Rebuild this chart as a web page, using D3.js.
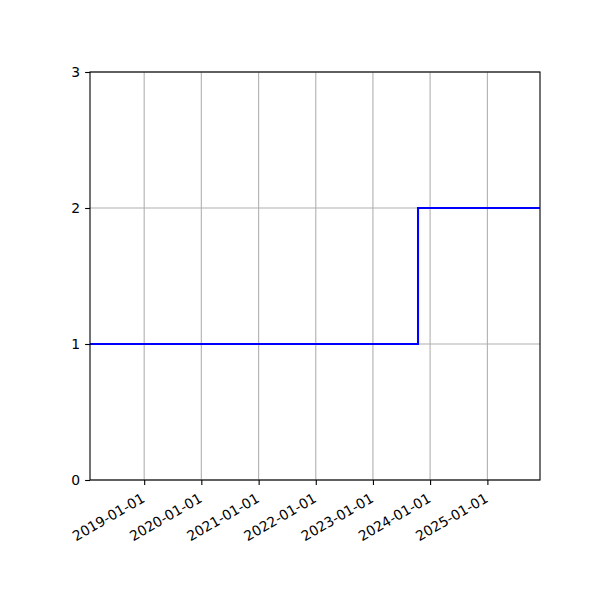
<!DOCTYPE html>
<html>
  <head>
    <meta charset="UTF-8" />
    <script src="https://d3js.org/d3.v7.min.js"></script>
    <style>
      body { margin: 0; background: #fff; }
      text { font-family: "DejaVu Sans", sans-serif; font-size: 13.9px; fill: #000; }
    </style>
  </head>
  <body>
    <svg id="chart" width="600" height="600"></svg>
    <script>
      // step data: dates and values
      var dates = ["2018-01-20", "2023-10-16", "2025-12-03"];
      var values = [1, 2, 2];
      var xTickDates = ["2019-01-01", "2020-01-01", "2021-01-01", "2022-01-01", "2023-01-01", "2024-01-01", "2025-01-01"];
      var yTicks = [0, 1, 2, 3];

      var parse = d3.utcParse("%Y-%m-%d");
      var data = dates.map(function(d, i) { return { date: parse(d), value: values[i] }; });

      var svg = d3.select("#chart");
      var plotLeft = 90, plotRight = 540, plotTop = 72, plotBottom = 480;

      var x = d3.scaleUtc()
        .domain(d3.extent(data, function(d) { return d.date; }))
        .range([plotLeft, plotRight]);
      var y = d3.scaleLinear().domain([0, 3]).range([plotBottom, plotTop]);

      svg.append("rect").attr("width", 600).attr("height", 600).attr("fill", "#fff");

      // grid
      var grid = svg.append("g").attr("stroke", "#b0b0b0").attr("stroke-width", 1.1);
      grid.selectAll(".vx").data(xTickDates).enter().append("line")
        .attr("x1", function(d) { return x(parse(d)); })
        .attr("x2", function(d) { return x(parse(d)); })
        .attr("y1", plotTop).attr("y2", plotBottom);
      grid.selectAll(".hy").data(yTicks).enter().append("line")
        .attr("x1", plotLeft).attr("x2", plotRight)
        .attr("y1", function(d) { return y(d); })
        .attr("y2", function(d) { return y(d); });

      // step line
      var line = d3.line()
        .x(function(d) { return x(d.date); })
        .y(function(d) { return y(d.value); })
        .curve(d3.curveStepAfter);
      svg.append("path").datum(data)
        .attr("fill", "none")
        .attr("stroke", "#0000ff")
        .attr("stroke-width", 2.08)
        .attr("d", line);

      // frame
      svg.append("rect")
        .attr("x", plotLeft).attr("y", plotTop)
        .attr("width", plotRight - plotLeft).attr("height", plotBottom - plotTop)
        .attr("fill", "none").attr("stroke", "#000").attr("stroke-width", 1.1);

      // y axis
      var yAxis = svg.append("g").attr("transform", "translate(" + plotLeft + ",0)")
        .call(d3.axisLeft(y).tickValues(yTicks).tickFormat(d3.format("d")).tickSize(4.9).tickPadding(4.9));
      yAxis.select(".domain").remove();
      yAxis.selectAll("line").attr("stroke", "#000").attr("stroke-width", 1.1);
      yAxis.selectAll("text").attr("font-size", null).attr("font-family", null);

      // x axis
      var xAxis = svg.append("g").attr("transform", "translate(0," + plotBottom + ")")
        .call(d3.axisBottom(x).tickValues(xTickDates.map(parse)).tickFormat(d3.utcFormat("%Y-%m-%d")).tickSize(4.9));
      xAxis.select(".domain").remove();
      xAxis.selectAll("line").attr("stroke", "#000").attr("stroke-width", 1.1);
      xAxis.selectAll("text")
        .attr("font-size", null).attr("font-family", null)
        .attr("y", 0).attr("dy", "0.75em")
        .attr("text-anchor", "end")
        .attr("transform", "translate(-4,12) rotate(-30)");
    </script>
  </body>
</html>
